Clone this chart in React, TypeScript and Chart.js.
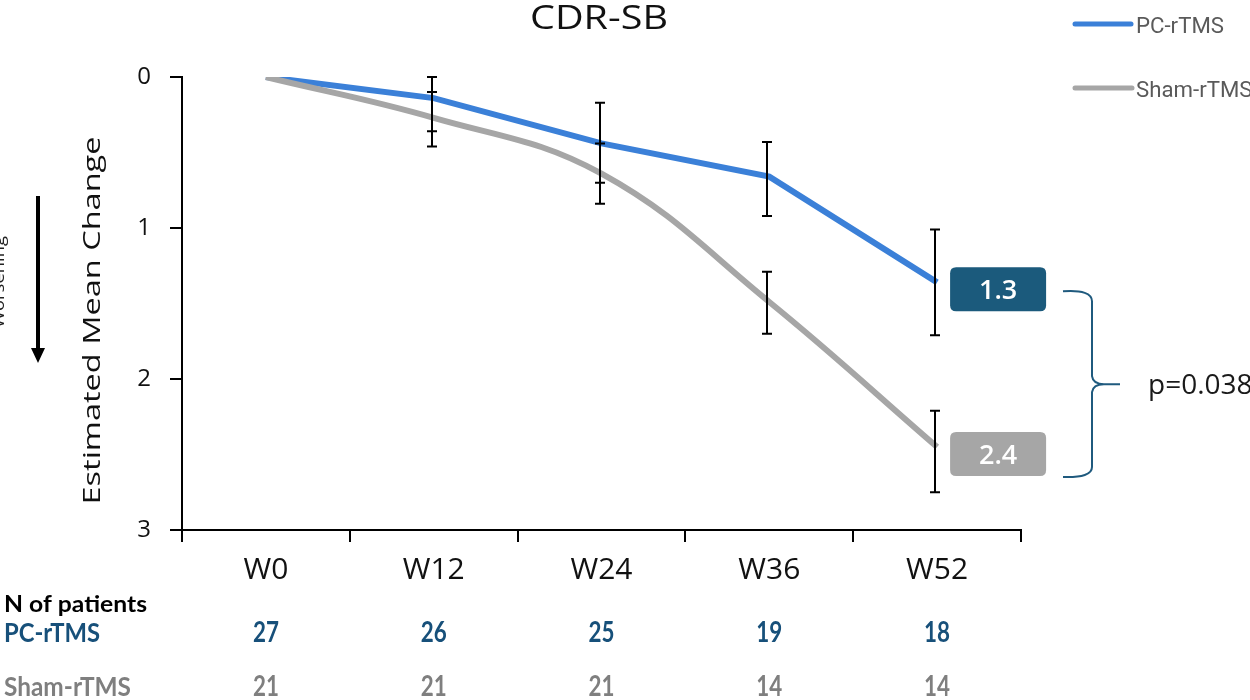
import React, { useEffect, useRef } from "react";
import { Chart, registerables } from "chart.js";

Chart.register(...registerables);

const weeks = ["W0", "W12", "W24", "W36", "W52"];
const seriesNames = ["PC-rTMS", "Sham-rTMS"];
const pcMean = [0, 0.14, 0.44, 0.66, 1.36];
const pcLow: (number | null)[] = [null, 0.0, 0.17, 0.43, 1.01];
const pcHigh: (number | null)[] = [null, 0.36, 0.7, 0.92, 1.71];
const shamMean = [0, 0.27, 0.64, 1.49, 2.45];
const shamLow: (number | null)[] = [null, 0.1, 0.44, 1.29, 2.21];
const shamHigh: (number | null)[] = [null, 0.46, 0.84, 1.7, 2.75];
const yTicks = [0, 1, 2, 3];
const endLabels = ["1.3", "2.4"];
const pValue = "p=0.038";
const nPc = [27, 26, 25, 19, 18];
const nSham = [21, 21, 21, 14, 14];
const titleText = "CDR-SB";
const yTitle = "Estimated Mean Change";
const sideNote = "Worsening";
const tableHeader = "N of patients";

const BLUE = "#3b80d8";
const GRAY = "#a6a6a6";
const DARK = "#1b5a7c";
const PC_TXT = "#17507a";
const SHAM_TXT = "#7f7f7f";
const FONT = "'Open Sans', 'Noto Sans', sans-serif";
const TFONT = "Lato, 'Open Sans', sans-serif";

function fitText(
  ctx: CanvasRenderingContext2D,
  text: string,
  x: number,
  y: number,
  font: string,
  color: string,
  opts: { width?: number; scale?: number; align?: CanvasTextAlign; rotate?: number; baseline?: CanvasTextBaseline }
) {
  ctx.save();
  ctx.font = font;
  ctx.fillStyle = color;
  const w = ctx.measureText(text).width;
  const s = opts.width ? opts.width / w : opts.scale ?? 1;
  ctx.translate(x, y);
  if (opts.rotate) ctx.rotate(opts.rotate);
  ctx.scale(s, 1);
  ctx.textAlign = opts.align ?? "left";
  ctx.textBaseline = opts.baseline ?? "alphabetic";
  ctx.fillText(text, 0, 0);
  ctx.restore();
  return s;
}

function roundRect(ctx: CanvasRenderingContext2D, x: number, y: number, w: number, h: number, r: number) {
  ctx.beginPath();
  ctx.moveTo(x + r, y);
  ctx.lineTo(x + w - r, y);
  ctx.quadraticCurveTo(x + w, y, x + w, y + r);
  ctx.lineTo(x + w, y + h - r);
  ctx.quadraticCurveTo(x + w, y + h, x + w - r, y + h);
  ctx.lineTo(x + r, y + h);
  ctx.quadraticCurveTo(x, y + h, x, y + h - r);
  ctx.lineTo(x, y + r);
  ctx.quadraticCurveTo(x, y, x + r, y);
  ctx.closePath();
}

const overlay = {
  id: "overlay",
  afterDatasetsDraw(chart: any) {
    const ctx: CanvasRenderingContext2D = chart.ctx;
    const xs = chart.scales.x;
    const ys = chart.scales.y;
    ctx.save();
    ctx.strokeStyle = "#000";
    ctx.lineWidth = 2;
    const sets: [(number | null)[], (number | null)[]][] = [
      [pcLow, pcHigh],
      [shamLow, shamHigh],
    ];
    sets.forEach(([lo, hi]) => {
      weeks.forEach((_, i) => {
        const l = lo[i];
        const h = hi[i];
        if (l == null || h == null) return;
        const x = Math.round(xs.getPixelForValue(i)) - 2;
        const y1 = ys.getPixelForValue(l);
        const y2 = ys.getPixelForValue(h);
        ctx.beginPath();
        ctx.moveTo(x, y1);
        ctx.lineTo(x, y2);
        ctx.moveTo(x - 5, y1);
        ctx.lineTo(x + 5, y1);
        ctx.moveTo(x - 5, y2);
        ctx.lineTo(x + 5, y2);
        ctx.stroke();
      });
    });
    ctx.restore();
  },
  afterDraw(chart: any) {
    const ctx: CanvasRenderingContext2D = chart.ctx;
    const xs = chart.scales.x;
    const ys = chart.scales.y;
    const area = chart.chartArea;

    // Title
    fitText(ctx, titleText, 599, 29, `400 33px ${FONT}`, "#111", { width: 138, align: "center" });

    // Y title (rotated, stretched along its length)
    fitText(ctx, yTitle, 100, (area.top + area.bottom) / 2 + 17, `400 24px ${FONT}`, "#111", {
      width: 368,
      align: "center",
      rotate: -Math.PI / 2,
    });

    // Worsening arrow
    ctx.save();
    ctx.strokeStyle = "#000";
    ctx.fillStyle = "#000";
    ctx.lineWidth = 4;
    ctx.beginPath();
    ctx.moveTo(38, 196);
    ctx.lineTo(38, 350);
    ctx.stroke();
    ctx.beginPath();
    ctx.moveTo(31, 348);
    ctx.lineTo(45, 348);
    ctx.lineTo(38, 363);
    ctx.closePath();
    ctx.fill();
    ctx.restore();
    fitText(ctx, sideNote, 4, 282, `400 16px ${FONT}`, "#222", {
      width: 92,
      align: "center",
      rotate: -Math.PI / 2,
    });

    // Legend
    ctx.save();
    ctx.lineWidth = 5;
    ctx.lineCap = "round";
    ctx.strokeStyle = BLUE;
    ctx.beginPath();
    ctx.moveTo(1075, 24);
    ctx.lineTo(1131, 24);
    ctx.stroke();
    ctx.strokeStyle = GRAY;
    ctx.beginPath();
    ctx.moveTo(1075, 88);
    ctx.lineTo(1132, 88);
    ctx.stroke();
    ctx.restore();
    const ls = fitText(ctx, seriesNames[0], 1136, 33, `400 22px Roboto, sans-serif`, "#5a5a5a", { width: 88 });
    fitText(ctx, seriesNames[1], 1136, 97, `400 22px Roboto, sans-serif`, "#5a5a5a", { scale: ls });

    // End labels
    const lastX = xs.getPixelForValue(weeks.length - 1);
    const pcY = ys.getPixelForValue(pcMean[pcMean.length - 1]);
    const shY = ys.getPixelForValue(shamMean[shamMean.length - 1]);
    const boxes: [number, string][] = [
      [pcY, DARK],
      [shY, GRAY],
    ];
    boxes.forEach(([py, col], k) => {
      const bx = lastX + 13;
      const by = py - 15;
      ctx.save();
      ctx.fillStyle = col;
      roundRect(ctx, bx, by, 96, 44, 6);
      ctx.fill();
      ctx.restore();
      fitText(ctx, endLabels[k], bx + 48, by + 32, `600 27px ${FONT}`, "#fff", { align: "center" });
    });

    // Brace
    const top = pcY + 9;
    const bot = shY + 30;
    const mid = (top + bot) / 2;
    const bx0 = 1063;
    const bx1 = 1092;
    ctx.save();
    ctx.strokeStyle = "#1f5a7e";
    ctx.lineWidth = 2;
    ctx.beginPath();
    ctx.moveTo(bx0, top);
    ctx.quadraticCurveTo(bx1, top - 2, bx1, top + 10);
    ctx.lineTo(bx1, mid - 8);
    ctx.quadraticCurveTo(bx1 + 1, mid, bx1 + 12, mid);
    ctx.lineTo(1120, mid);
    ctx.moveTo(bx1 + 12, mid);
    ctx.quadraticCurveTo(bx1 + 1, mid, bx1, mid + 8);
    ctx.lineTo(bx1, bot - 10);
    ctx.quadraticCurveTo(bx1, bot + 1, bx0, bot);
    ctx.stroke();
    ctx.restore();
    fitText(ctx, pValue, 1148, mid + 10, `400 28px ${FONT}`, "#1a1a1a", {});

    // Patient table
    fitText(ctx, tableHeader, 4, 612, `700 23px ${TFONT}`, "#000", { width: 143 });
    fitText(ctx, seriesNames[0], 4, 642, `700 26px ${TFONT}`, PC_TXT, { width: 96 });
    fitText(ctx, seriesNames[1], 4, 696, `700 26px ${TFONT}`, SHAM_TXT, { width: 127 });
    weeks.forEach((_, i) => {
      const x = xs.getPixelForValue(i);
      fitText(ctx, String(nPc[i]), x, 642, `700 28px ${TFONT}`, PC_TXT, { align: "center", scale: 0.8 });
      fitText(ctx, String(nSham[i]), x, 696, `700 28px ${TFONT}`, SHAM_TXT, { align: "center", scale: 0.8 });
    });
  },
};

export default function App() {
  const ref = useRef<HTMLCanvasElement>(null);
  useEffect(() => {
    document.body.style.margin = "0";
    const canvas = ref.current!;
    const chart = new Chart(canvas, {
      type: "line",
      data: {
        labels: weeks,
        datasets: [
          {
            label: seriesNames[1],
            data: shamMean,
            borderColor: GRAY,
            backgroundColor: GRAY,
            borderWidth: 6,
            pointRadius: 0,
            tension: 0.4,
            order: 1,
          },
          {
            label: seriesNames[0],
            data: pcMean,
            borderColor: BLUE,
            backgroundColor: BLUE,
            borderWidth: 6,
            pointRadius: 0,
            tension: 0,
            order: 2,
          },
        ],
      },
      options: {
        responsive: false,
        animation: false,
        devicePixelRatio: 1,
        layout: { padding: { left: 82, top: 77, right: 229, bottom: 110 } },
        plugins: {
          legend: { display: false },
          title: { display: false },
          tooltip: { enabled: false },
        },
        scales: {
          x: {
            type: "category",
            offset: true,
            grid: {
              offset: true,
              drawOnChartArea: false,
              drawTicks: true,
              tickLength: 12,
              color: "#000",
              lineWidth: 2,
            },
            border: { display: true, color: "#000", width: 2 },
            ticks: { color: "#111", font: { size: 30, family: FONT }, padding: 10 },
            afterFit: (s: any) => {
              s.height = 60;
            },
          },
          y: {
            type: "linear",
            reverse: true,
            min: yTicks[0],
            max: yTicks[yTicks.length - 1],
            afterBuildTicks: (s: any) => {
              s.ticks = yTicks.map((v) => ({ value: v }));
            },
            grid: {
              drawOnChartArea: false,
              drawTicks: true,
              tickLength: 12,
              color: "#000",
              lineWidth: 2,
            },
            border: { display: true, color: "#000", width: 2 },
            ticks: { color: "#111", font: { size: 24, family: FONT }, padding: 19 },
            afterFit: (s: any) => {
              s.width = 100;
            },
          },
        },
      },
      plugins: [overlay],
    } as any);
    return () => chart.destroy();
  }, []);
  return (
    <div style={{ position: "relative", width: 1250, height: 700 }}>
      <canvas ref={ref} width={1250} height={700} style={{ display: "block" }} />
    </div>
  );
}
